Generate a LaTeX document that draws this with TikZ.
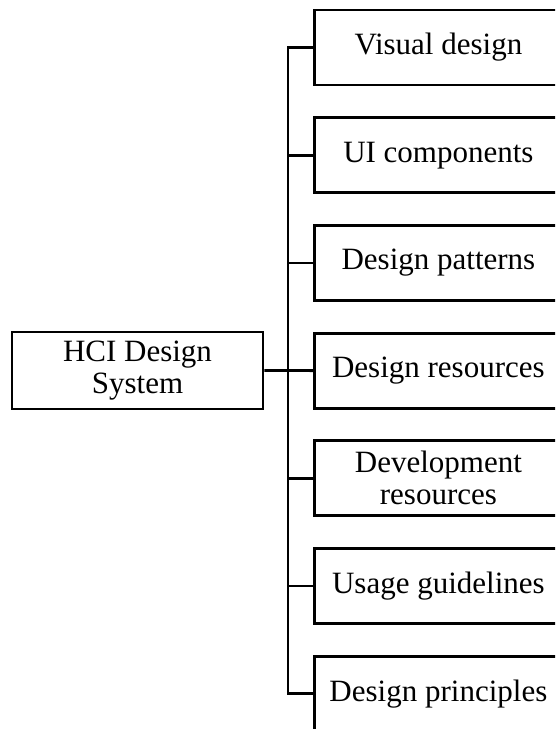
\documentclass[tikz,border=0pt]{standalone}
\usepackage{fontspec}
\setmainfont{Liberation Serif}
\begin{document}
\begin{tikzpicture}[x=1pt,y=-1pt,
  box/.style={draw=black,line width=2.8pt,fill=white,inner sep=0pt,
    minimum height=75pt,align=center,
    font=\fontsize{31}{32}\selectfont},
  item/.style={box,minimum width=248pt,anchor=west},
  link/.style={draw=black,line width=2.8pt}]
\useasboundingbox (0,0) rectangle (555,729);
\clip (0,0) rectangle (555,729);
% root box
\node[box,minimum width=251pt,minimum height=77pt,anchor=center] (hci) at (137.5,370.5) {HCI Design\\System};
% child boxes
\node[item] (b1) at (313,47.5) {Visual design};
\node[item] (b2) at (313,155.2) {UI components};
\node[item] (b3) at (313,262.9) {Design patterns};
\node[item] (b4) at (313,370.6) {Design resources};
\node[item] (b5) at (313,478.3) {Development\\resources};
\node[item] (b6) at (313,586) {Usage guidelines};
\node[item] (b7) at (313,693.7) {Design principles};
% trunk
\coordinate (tr) at (288,370.6);
\draw[link] (hci.east) -- (b4.west);
\draw[link] (b1.west) -| (tr) |- (b7.west);
\foreach \b in {b2,b3,b5,b6}
  \draw[link] (\b.west) -- (\b.west -| tr);
\end{tikzpicture}
\end{document}
